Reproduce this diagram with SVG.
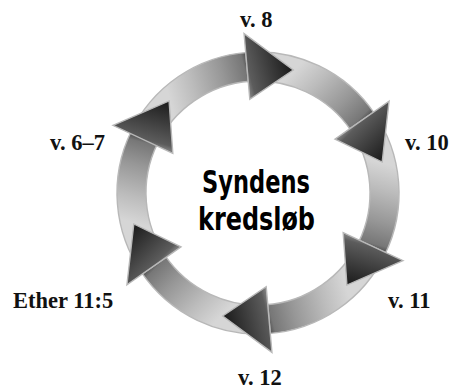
<svg xmlns="http://www.w3.org/2000/svg" xmlns:xlink="http://www.w3.org/1999/xlink" width="453" height="389" viewBox="0 0 453 389">
  <style>
    .lbl { font-family: "Liberation Serif", "DejaVu Serif", serif; font-weight: bold; font-size: 22.5px; fill: #111; }
    .title { font-family: "DejaVu Sans Condensed", "DejaVu Sans", "Liberation Sans", sans-serif; font-weight: bold; font-size: 31.5px; fill: #000; }
    .arr { fill: url(#g); stroke: #b8b8b8; stroke-width: 1.4; stroke-linejoin: miter; }
  </style>
  <defs>
    <linearGradient id="g" gradientUnits="userSpaceOnUse" x1="-87.5" y1="-90.6" x2="35.3" y2="-123">
      <stop offset="0" stop-color="#d6d6d6"/>
      <stop offset="0.2" stop-color="#bcbcbc"/>
      <stop offset="0.45" stop-color="#979797"/>
      <stop offset="0.63" stop-color="#777777"/>
      <stop offset="0.66" stop-color="#5c5c5c"/>
      <stop offset="1" stop-color="#1a1a1a"/>
    </linearGradient>
    <path id="shaft" d="M -127.79,-59.59 A 141 141 0 0 1 -9.84,-140.66 L -7.81,-111.73 A 112 112 0 0 0 -101.51,-47.33 Z"/>
    <path id="head" d="M -13.95,-159.39 L 35.28,-123.04 L -8.19,-93.64 Z"/>
  </defs>

  <g id="connectors" transform="translate(258,193)">
    <g id="shafts" class="arr">
      <use xlink:href="#shaft"/>
      <use xlink:href="#shaft" transform="rotate(60)"/>
      <use xlink:href="#shaft" transform="rotate(120)"/>
      <use xlink:href="#shaft" transform="rotate(180)"/>
      <use xlink:href="#shaft" transform="rotate(240)"/>
      <use xlink:href="#shaft" transform="rotate(300)"/>
    </g>
    <g id="heads" class="arr">
      <use xlink:href="#head"/>
      <use xlink:href="#head" transform="rotate(60)"/>
      <use xlink:href="#head" transform="rotate(120)"/>
      <use xlink:href="#head" transform="rotate(180)"/>
      <use xlink:href="#head" transform="rotate(240)"/>
      <use xlink:href="#head" transform="rotate(300)"/>
    </g>
  </g>

  <g id="title">
    <text class="title" x="256" y="193" text-anchor="middle" textLength="108" lengthAdjust="spacingAndGlyphs">Syndens</text>
    <text class="title" x="256.5" y="230" text-anchor="middle" textLength="117" lengthAdjust="spacingAndGlyphs">kredsløb</text>
  </g>
  <g id="label-v8"><text class="lbl" x="240" y="27">v. 8</text></g>
  <g id="label-v10"><text class="lbl" x="405" y="150">v. 10</text></g>
  <g id="label-v11"><text class="lbl" x="388" y="308">v. 11</text></g>
  <g id="label-v12"><text class="lbl" x="238" y="385">v. 12</text></g>
  <g id="label-ether"><text class="lbl" x="13" y="308">Ether 11:5</text></g>
  <g id="label-v67"><text class="lbl" x="50" y="150">v. 6–7</text></g>
</svg>
